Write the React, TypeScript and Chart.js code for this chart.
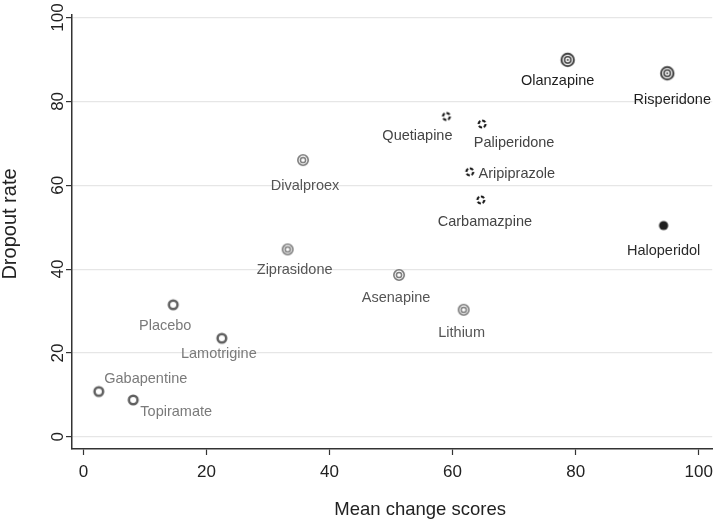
import { useEffect, useRef } from 'react';
import { Chart, registerables } from 'chart.js';

Chart.register(...registerables);

// ---- data ----
const drugs = [
  'Olanzapine', 'Risperidone',
  'Quetiapine', 'Paliperidone', 'Aripiprazole', 'Carbamazpine',
  'Haloperidol',
  'Divalproex', 'Ziprasidone', 'Asenapine', 'Lithium',
  'Placebo', 'Lamotrigine', 'Gabapentine', 'Topiramate',
];
const meanChangeScores = [78.7, 94.9, 59.0, 64.8, 62.8, 64.6, 94.3, 35.7, 33.2, 51.3, 61.8, 14.6, 22.5, 2.5, 8.1];
const dropoutRates = [89.9, 86.7, 76.4, 74.6, 63.2, 56.5, 50.4, 66.0, 44.7, 38.6, 30.3, 31.5, 23.5, 10.8, 8.8];
const markerGroups = [0, 0, 1, 1, 1, 1, 2, 3, 3, 3, 3, 4, 4, 4, 4];
const xTicks = [0, 20, 40, 60, 80, 100];
const yTicks = [0, 20, 40, 60, 80, 100];
const xTitle = 'Mean change scores';
const yTitle = 'Dropout rate';

// ---- layout / style ----
const LABEL_OFFSETS: [number, number][] = [
  [-10, 21], [5, 27],
  [-29, 20], [32, 19], [47, 2], [4, 22],
  [0, 25],
  [2, 26], [7, 21], [-3, 23], [-2, 23],
  [-8, 21], [-3, 16], [47, -13], [43, 12],
];
const LABEL_COLORS = ['#1e1e1e', '#444444', '#2a2a2a', '#555555', '#7a7a7a'];
const FONT = '"Liberation Sans", Arial, sans-serif';

function makeMarker(size: number, draw: (g: CanvasRenderingContext2D, c: number) => void) {
  const cv = document.createElement('canvas');
  cv.width = size;
  cv.height = size;
  const g = cv.getContext('2d')!;
  draw(g, size / 2);
  return cv;
}

function ring(g: CanvasRenderingContext2D, c: number, r: number, w: number, color: string) {
  g.beginPath();
  g.arc(c, c, r, 0, Math.PI * 2);
  g.lineWidth = w;
  g.strokeStyle = color;
  g.stroke();
}

function buildMarkers() {
  const bullseye = makeMarker(18, (g, c) => {
    ring(g, c, 6.2, 2.0, '#404040');
    ring(g, c, 3.2, 1.5, '#404040');
    g.beginPath();
    g.arc(c, c, 1.0, 0, Math.PI * 2);
    g.fillStyle = '#404040';
    g.fill();
  });
  const dashed = makeMarker(14, (g, c) => {
    g.setLineDash([3.6, 1.75]);
    ring(g, c, 3.5, 2.1, '#111111');
  });
  const solid = makeMarker(14, (g, c) => {
    g.beginPath();
    g.arc(c, c, 4.6, 0, Math.PI * 2);
    g.fillStyle = '#1f1f1f';
    g.fill();
  });
  const double = makeMarker(16, (g, c) => {
    ring(g, c, 5.2, 1.6, '#7a7a7a');
    ring(g, c, 2.6, 1.5, '#7a7a7a');
  });
  const thick = makeMarker(16, (g, c) => {
    ring(g, c, 4.3, 2.5, '#606060');
  });
  return [bullseye, dashed, solid, double, thick];
}

const labelPlugin = {
  id: 'drugLabels',
  afterDatasetsDraw(chart: any) {
    const { ctx, scales } = chart;
    const xs = scales.x;
    const ys = scales.y;
    ctx.save();
    ctx.font = `14.5px ${FONT}`;
    ctx.textAlign = 'center';
    ctx.textBaseline = 'middle';
    drugs.forEach((name, i) => {
      const px = xs.getPixelForValue(meanChangeScores[i]);
      const py = ys.getPixelForValue(dropoutRates[i]);
      const [dx, dy] = LABEL_OFFSETS[i];
      ctx.fillStyle = LABEL_COLORS[markerGroups[i]];
      ctx.fillText(name, px + dx, py + dy);
    });
    ctx.restore();
  },
};

const axisTitlePlugin = {
  id: 'axisTitles',
  afterDraw(chart: any) {
    const { ctx, chartArea } = chart;
    ctx.save();
    ctx.fillStyle = '#222';
    ctx.textAlign = 'center';
    ctx.textBaseline = 'middle';
    // x title, slightly right of the plot centre as in the reference
    ctx.font = `18.5px ${FONT}`;
    const xMid = (chartArea.left + chartArea.right) / 2 + 28;
    ctx.fillText(xTitle, xMid, chart.height - 11);
    // y title, rotated
    ctx.font = `20px ${FONT}`;
    const yMid = (chartArea.top + chartArea.bottom) / 2 - 8;
    ctx.translate(10, yMid);
    ctx.rotate(-Math.PI / 2);
    ctx.fillText(yTitle, 0, 0);
    ctx.restore();
  },
};

export default function App() {
  const ref = useRef<HTMLCanvasElement | null>(null);

  useEffect(() => {
    document.body.style.margin = '0';
    const markers = buildMarkers();
    const datasets = markers.map((m, g) => ({
      label: 'group' + g,
      data: drugs
        .map((_, i) => i)
        .filter((i) => markerGroups[i] === g)
        .map((i) => ({ x: meanChangeScores[i], y: dropoutRates[i] })),
      pointStyle: m as any,
      pointRadius: 5,
      showLine: false,
    }));

    const chart = new Chart(ref.current!, {
      type: 'scatter',
      data: { datasets },
      options: {
        animation: false,
        responsive: false,
        devicePixelRatio: 1,
        layout: { padding: { top: 15, right: 3, left: 0, bottom: 0 } },
        plugins: { legend: { display: false }, tooltip: { enabled: false } },
        scales: {
          x: {
            type: 'linear',
            min: -1.85,
            max: 102.2,
            afterBuildTicks: (s: any) => {
              s.ticks = xTicks.map((v) => ({ value: v }));
            },
            afterFit: (s: any) => {
              s.height = 72;
            },
            grid: { drawOnChartArea: false, drawTicks: true, tickLength: 6, tickColor: '#333', tickWidth: 1.2 },
            border: { display: true, color: '#333', width: 1.5 },
            ticks: { font: { size: 17, family: FONT }, color: '#222', padding: 7, maxRotation: 0 },
            title: { display: false },
          },
          y: {
            type: 'linear',
            min: -2.9,
            max: 100.6,
            afterBuildTicks: (s: any) => {
              s.ticks = yTicks.map((v) => ({ value: v }));
            },
            afterFit: (s: any) => {
              s.width = 72;
            },
            grid: { color: '#e6e6e6', lineWidth: 1.2, drawTicks: true, tickLength: 6, tickColor: '#333', tickWidth: 1.2 },
            border: { display: true, color: '#333', width: 1.5 },
            ticks: {
              font: { size: 17, family: FONT },
              color: '#222',
              padding: -6,
              minRotation: 90,
              maxRotation: 90,
              crossAlign: 'center',
            },
            title: { display: false },
          },
        },
      },
      plugins: [labelPlugin, axisTitlePlugin],
    });
    return () => chart.destroy();
  }, []);

  return (
    <div style={{ width: 720, height: 521 }}>
      <canvas ref={ref} width={720} height={521} style={{ display: 'block' }} />
    </div>
  );
}
